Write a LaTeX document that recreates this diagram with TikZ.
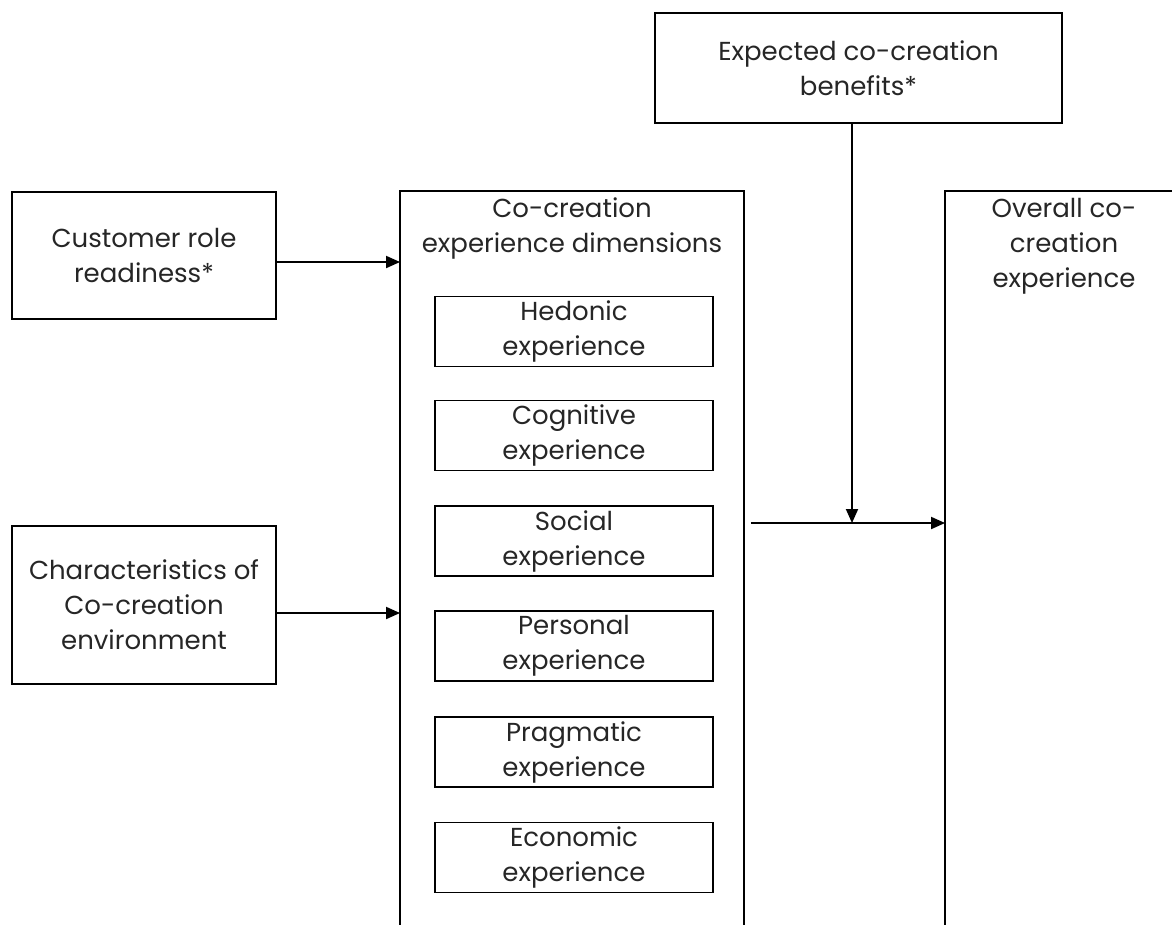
\documentclass[tikz,border=0pt]{standalone}
\usepackage{fontspec}
\setmainfont{Poppins}
\usetikzlibrary{arrows.meta}
\begin{document}
\begin{tikzpicture}[x=1pt,y=-1pt,
  line width=1.9pt,
  txt/.style={align=center, font=\fontsize{26}{35}\selectfont, text=black!85, inner sep=0pt},
  box/.style={txt, draw},
  frame/.style={inner sep=0pt, minimum height=732pt},
  arr/.style={-{Triangle[length=14pt,width=12pt]}}
]
\useasboundingbox (0,0) rectangle (1172,924);

% antecedents
\node[box, minimum width=264pt, minimum height=127pt] (crr) at (144,255.5) {Customer role\\readiness*};
\node[box, minimum width=264pt, minimum height=158pt] (env) at (144,605) {Characteristics of\\Co-creation\\environment};
\node[box, minimum width=407pt, minimum height=110pt] (exp) at (858.5,68) {Expected co-creation\\benefits*};

% open frame holding the experience dimensions
\node[frame, minimum width=342pt] (dim) at (572,558) {};
\draw (dim.south west) -- (dim.north west) -- (dim.north east) -- (dim.south east);
\node[txt, anchor=north] (dimtitle) at (572,197) {Co-creation\\experience dimensions};

\node[box, minimum width=278pt, minimum height=70pt] (hed) at (574,331.5) {Hedonic\\experience};
\node[box, minimum width=278pt, minimum height=70pt] (cog) at (574,435.5) {Cognitive\\experience};
\node[box, minimum width=278pt, minimum height=70pt] (soc) at (574,541) {Social\\experience};
\node[box, minimum width=278pt, minimum height=70pt] (per) at (574,646) {Personal\\experience};
\node[box, minimum width=278pt, minimum height=70pt] (pra) at (574,752) {Pragmatic\\experience};
\node[box, minimum width=278pt, minimum height=70pt] (eco) at (574,857.5) {Economic\\experience};

% outcome frame
\node[frame, minimum width=226pt] (ovr) at (1059,558) {};
\draw (ovr.south west) -- (ovr.north west) -- (ovr.north east);
\node[txt, anchor=north] (ovrtitle) at (1064,197) {Overall co-\\creation\\experience};

% connectors
\coordinate (a1) at ([yshift=-6.5pt]crr.east);
\coordinate (a2) at ([yshift=-8pt]env.east);
\draw[arr] (a1) -- (a1 -| dim.west);
\draw[arr] (a2) -- (a2 -| dim.west);

\coordinate (j) at (852,523);
\path (dim.east |- j) ++(7,0) coordinate (h0);
\draw[arr] (h0) -- (j -| ovr.west);
\draw[arr] (exp.south -| j) -- (j);
\end{tikzpicture}
\end{document}
